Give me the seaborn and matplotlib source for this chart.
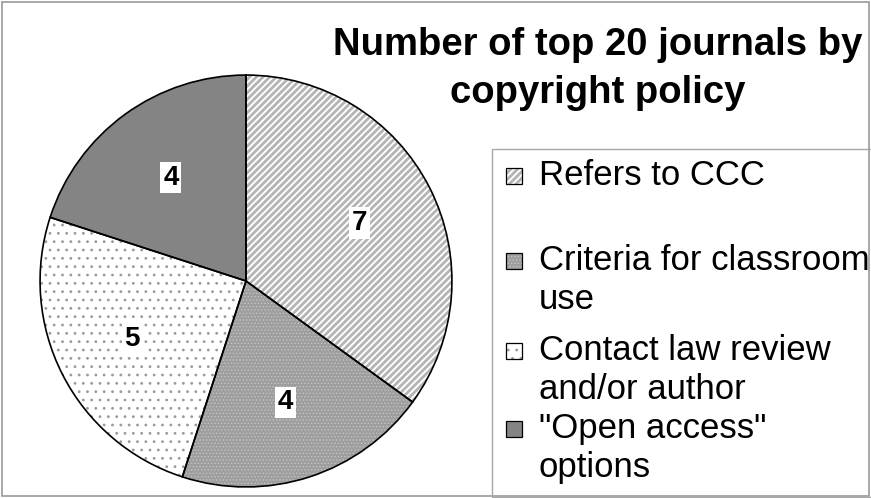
import matplotlib
matplotlib.use("Agg")
import matplotlib.pyplot as plt
import matplotlib.patches as mpatches
import seaborn as sns

# ---- data ----
categories = ["Refers to CCC", "Criteria for classroom\nuse",
              "Contact law review\nand/or author", "\"Open access\"\noptions"]
values = [7, 4, 5, 4]
title = "Number of top 20 journals by\ncopyright policy"

# ---- styles ----
face_colors = ["#ffffff", "#9e9e9e", "#ffffff", "#848484"]
hatch_colors = ["#b4b4b4", "#c4c4c4", "#9a9a9a", "#848484"]
hatches = ["/////", ".....", "..", ""]
hatch_lws = [2.0, 0.6, 0.8, 0.8]

sns.set_theme(style="white")
plt.rcParams["font.family"] = ["Liberation Sans", "DejaVu Sans"]
plt.rcParams["hatch.linewidth"] = 0.8

W, H = 871, 498
fig = plt.figure(figsize=(W / 100, H / 100), dpi=100)
fig.patch.set_facecolor("white")

def fx(x):
    return x / W

def fy(y):
    return 1 - y / H

def set_hlw(p, lw):
    if hasattr(p, "set_hatch_linewidth"):
        p.set_hatch_linewidth(lw)

# figure frame
fig.patches.append(mpatches.Rectangle((fx(2), fy(496)), fx(867), 494 / H,
                                      transform=fig.transFigure, fill=False,
                                      edgecolor="#9a9a9a", linewidth=1.2))

# ---- pie ----
cx, cy, r = 246, 281, 208
ax = fig.add_axes([fx(cx - r), fy(cy + r), 2 * r / W, 2 * r / H])
wedges, texts = ax.pie(values, startangle=90, counterclock=False,
                       labels=[str(v) for v in values], labeldistance=0.62,
                       colors=face_colors,
                       wedgeprops=dict(linewidth=0),
                       textprops=dict(fontsize=20, fontweight="bold",
                                      ha="center", va="center", color="black",
                                      bbox=dict(boxstyle="square,pad=0.1",
                                                fc="white", ec="none")))
for w, hc, h, hl in zip(wedges, hatch_colors, hatches, hatch_lws):
    w.set_edgecolor(hc)
    w.set_hatch(h)
    w.set_linewidth(0)
    set_hlw(w, hl)
outline, _ = ax.pie(values, startangle=90, counterclock=False,
                    wedgeprops=dict(fill=False, edgecolor="black", linewidth=1.2))
for t in texts:
    t.set_zorder(5)
ax.set_xlim(-1.01, 1.01)
ax.set_ylim(-1.01, 1.01)
ax.axis("off")

# ---- title ----
title_lines = title.split("\n")
for line, yb in zip(title_lines, [55, 103]):
    fig.text(fx(598), fy(yb), line, ha="center", va="baseline",
             fontsize=27.5, fontweight="bold", color="black")

# ---- legend ----
fig.patches.append(mpatches.Rectangle((fx(492), fy(497)), fx(380), (497 - 149) / H,
                                      transform=fig.transFigure, fill=False,
                                      edgecolor="#a8a8a8", linewidth=1.0))
entry_baselines = [185, 270, 360, 438]
line_gap = 39
for lab, fc, hc, h, hl, yb in zip(categories, face_colors, hatch_colors, hatches,
                                  hatch_lws, entry_baselines):
    sq = mpatches.Rectangle((fx(506), fy(yb - 1)), fx(16), 16 / H,
                            transform=fig.transFigure, facecolor=fc,
                            edgecolor=hc, hatch=h, linewidth=0)
    set_hlw(sq, hl)
    fig.patches.append(sq)
    fig.patches.append(mpatches.Rectangle((fx(506), fy(yb - 1)), fx(16), 16 / H,
                                          transform=fig.transFigure, fill=False,
                                          edgecolor="black", linewidth=0.9))
    for i, part in enumerate(lab.split("\n")):
        fig.text(fx(539), fy(yb + i * line_gap), part, ha="left", va="baseline",
                 fontsize=25, color="black")

fig.savefig("out.png", dpi=100)
